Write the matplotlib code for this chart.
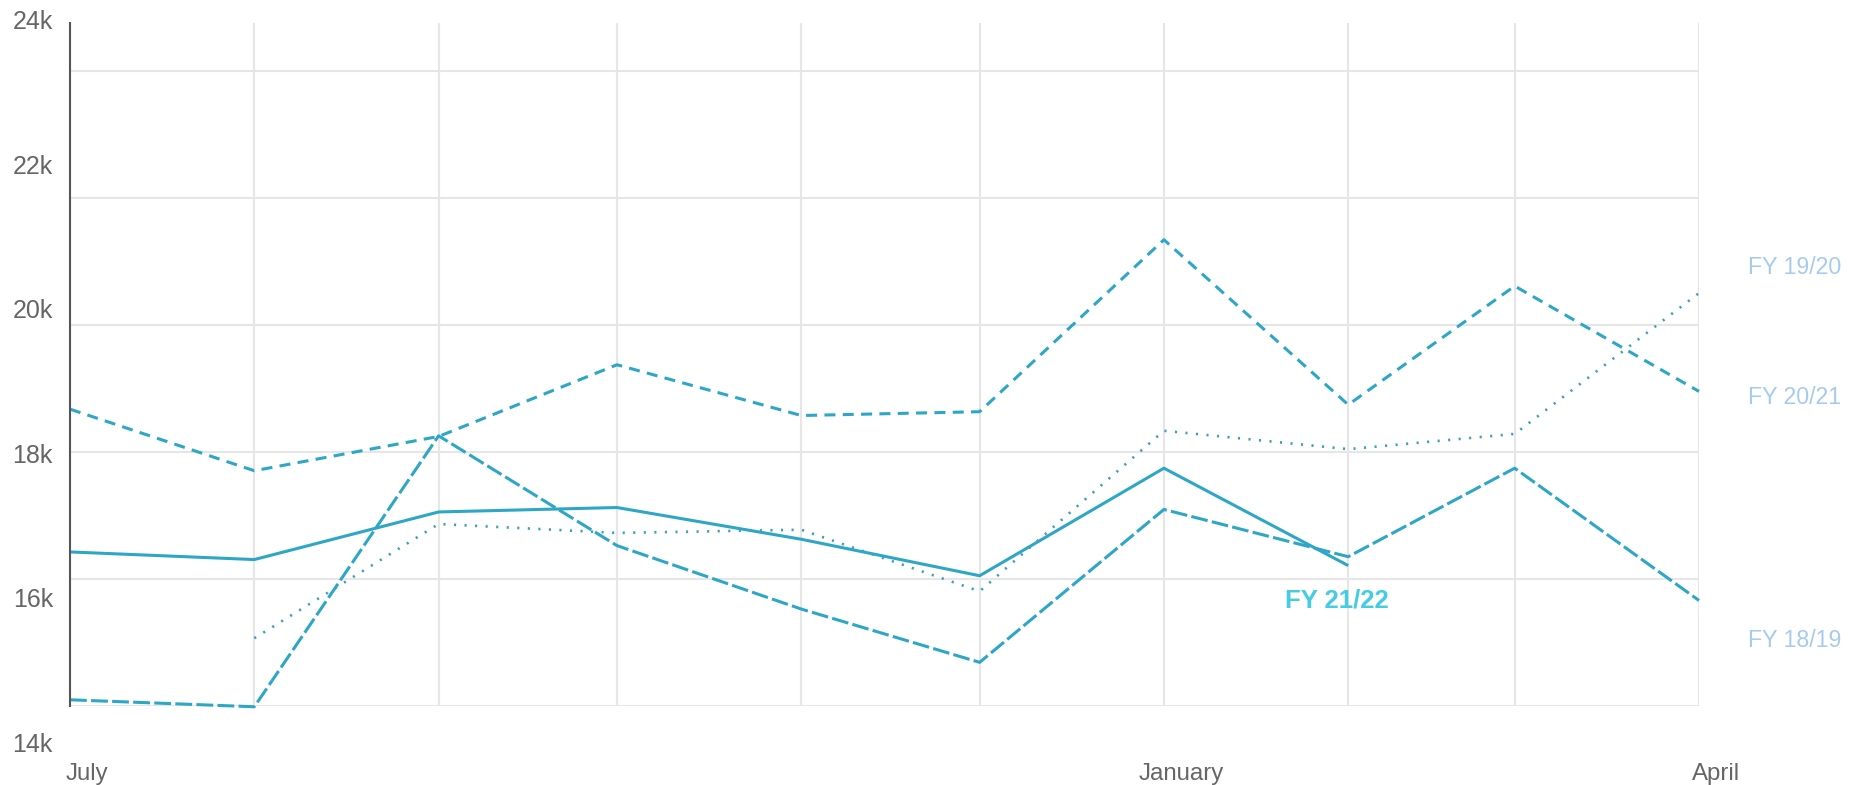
import datetime as dt

import matplotlib
matplotlib.use("Agg")
import matplotlib.pyplot as plt
import matplotlib.dates as mdates
from matplotlib.transforms import ScaledTranslation

plt.rcParams['font.family'] = ['Liberation Sans', 'DejaVu Sans']

# monthly totals, July -> April
months = [dt.date(2021, 7, 1), dt.date(2021, 8, 1), dt.date(2021, 9, 1),
          dt.date(2021, 10, 1), dt.date(2021, 11, 1), dt.date(2021, 12, 1),
          dt.date(2022, 1, 1), dt.date(2022, 2, 1), dt.date(2022, 3, 1),
          dt.date(2022, 4, 1)]

fy2122 = [16420, 16300, 17050, 17120, 16620, 16045, 17740, 16205]
fy2021 = [18670, 17700, 18240, 19370, 18570, 18630, 21340, 18740, 20610, 18950]
fy1920 = [15060, 16860, 16720, 16770, 15800, 18330, 18040, 18280, 20500]  # from August
fy1819 = [14090, 13980, 18250, 16520, 15520, 14680, 17090, 16345, 17740, 15655]

y_ticks = [14000, 16000, 18000, 20000, 22000, 24000]
x_ticks = [dt.date(2021, 7, 1), dt.date(2022, 1, 1), dt.date(2022, 4, 1)]
x_labels = ['July', 'January', 'April']

LINE = '#2ea6c6'
GRID = '#e6e6e6'
TXT = '#666666'
SIDE = '#a7cbec'

W, H = 1850, 785
fig = plt.figure(figsize=(W / 100, H / 100), dpi=100)

left, right, top, bottom = 70, 1699, 23, 706
ax = fig.add_axes([left / W, 1 - bottom / H, (right - left) / W, (bottom - top) / H], zorder=2)
ax.patch.set_visible(False)

# value labels sit on their own scale, a bit taller than the grid
lab_top, lab_bot = 19.5, 742.5
ax_lab = fig.add_axes([left / W, 1 - lab_bot / H, (right - left) / W, (lab_bot - lab_top) / H], zorder=1)
ax_lab.set_ylim(14000, 24000)
ax_lab.set_yticks(y_ticks)
ax_lab.set_yticklabels([f'{v // 1000}k' for v in y_ticks])
ax_lab.tick_params(axis='y', length=0, pad=17 * 0.72, labelsize=18, labelcolor=TXT)
ax_lab.set_xticks([])
for s in ax_lab.spines.values():
    s.set_visible(False)
ax_lab.patch.set_visible(False)

ax.plot(months, fy2021, color=LINE, lw=2.2, ls=(0, (3.6, 2.4)), clip_on=False)
ax.plot(months, fy1819, color=LINE, lw=2.2, ls=(0, (5.5, 1.4)), clip_on=False)
ax.plot(months[1:], fy1920, color='#3f9fb8', lw=1.9, ls=(0, (0.8, 3.2)), clip_on=False)
ax.plot(months[:len(fy2122)], fy2122, color=LINE, lw=2.2, solid_capstyle='butt', clip_on=False)

ax.set_xlim(months[0], months[-1])
ax.set_ylim(14000 - 0.5 * 2000 / 127, 24000 + 48 * 2000 / 127)
ax.set_yticks(y_ticks)
ax.set_yticklabels([])

ax.set_xticks(x_ticks)
ax.set_xticklabels(x_labels)
ax.xaxis.set_minor_locator(mdates.MonthLocator())
ax.tick_params(axis='both', which='both', length=0)
ax.tick_params(axis='x', labelsize=17.3, labelcolor=TXT, pad=41)
for lbl in ax.get_xticklabels():
    lbl.set_transform(lbl.get_transform() + ScaledTranslation(0.17, 0, fig.dpi_scale_trans))

ax.grid(axis='x', which='both', color=GRID, lw=1.5)
ax.grid(axis='y', which='major', color=GRID, lw=1.5)
ax.set_axisbelow(True)

for side in ['top', 'right', 'bottom']:
    ax.spines[side].set_visible(False)
ax.spines['left'].set_color('#555555')
ax.spines['left'].set_linewidth(1.5)

# series names on the right
ax.text(1.030, 20910, 'FY 19/20', transform=ax.get_yaxis_transform(),
        color=SIDE, fontsize=16.7, va='center', ha='left')
ax.text(1.030, 18850, 'FY 20/21', transform=ax.get_yaxis_transform(),
        color=SIDE, fontsize=16.7, va='center', ha='left')
ax.text(1.030, 15030, 'FY 18/19', transform=ax.get_yaxis_transform(),
        color=SIDE, fontsize=16.7, va='center', ha='left')
ax.text(0.778, 15660, 'FY 21/22', transform=ax.get_yaxis_transform(),
        color='#45cce2', fontsize=18.5, fontweight='bold', va='center', ha='center')

fig.savefig('out.png', dpi=100)
